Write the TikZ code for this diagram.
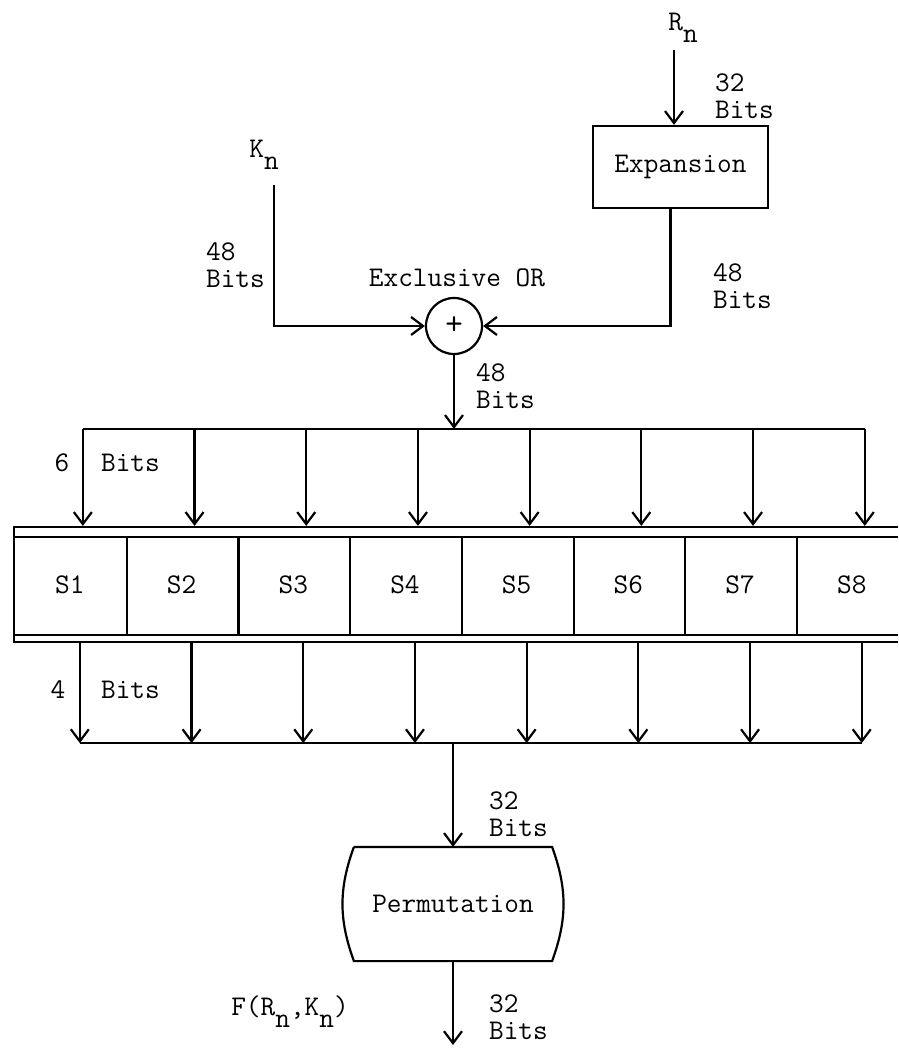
\documentclass[tikz,border=0pt]{standalone}
\usepackage{tikz}
\usetikzlibrary{positioning,arrows.meta,calc}

\begin{document}
\begin{tikzpicture}[
    x=1pt, y=-1pt, line width=2.2pt,
    font=\fontsize{28.5}{27}\selectfont\ttfamily,
    box/.style={rectangle, draw, minimum width=175pt, minimum height=82pt},
    sbox/.style={rectangle, minimum width=111.7pt, minimum height=115pt, inner sep=0pt},
    xorbox/.style={circle, draw, minimum size=56pt, inner sep=0pt},
    permbox/.style={rectangle, minimum width=196pt, minimum height=112pt},
    bits/.style={align=left, anchor=west, inner sep=0pt},
    arrow/.style={-{Straight Barb[length=12pt,width=18pt]}}
]
    \useasboundingbox (0,0) rectangle (898,1048);

    % inputs
    \node (rn) at (683,28) {R\raisebox{-12pt}{n}};
    \node[box] (exp) at (680.5,167) {Expansion};
    \node (kn) at (264,155) {K\raisebox{-12pt}{n}};
    \node[xorbox] (xor) at (454,326) {\fontsize{34}{34}\selectfont +};
    \node (xortext) at (457,278) {Exclusive OR};
    \coordinate (rin) at (674,50);
    \coordinate (kin) at (274,185);

    \draw[arrow] (rin) -- (rin |- exp.north);
    \draw[arrow] (kin) |- (xor.west);
    \draw[arrow] ([xshift=-10pt]exp.south) |- (xor.east);

    \node[bits] (b32r) at (714,96) {32\\Bits};
    \node[bits] (b48k) at (205,265) {48\\Bits};
    \node[bits] (b48e) at (712,286) {48\\Bits};
    \node[bits] (b48x) at (475,386) {48\\Bits};

    % S-boxes
    \foreach \i in {1,...,8}
        \node[sbox] (s\i) at ({14+111.7*(\i-0.5)},584.5) {S\i};
    \draw (898,527) -- (14,527) -- (14,642) -- (898,642);
    \draw (14,537) -- (898,537) (14,635) -- (898,635);
    \foreach \i in {1,...,7}
        \draw ([yshift=-10pt]s\i.north east) -- ([yshift=7pt]s\i.south east);

    % 6 bit inputs
    \foreach \i in {1,...,8} {
        \coordinate (tb\i) at ($(s\i.north)+(13,-97)$);
        \draw[arrow] (tb\i) -- ([xshift=13pt]s\i.north);
    }
    \draw (tb1) -- (tb8);
    \draw[arrow] (xor) -- (xor |- tb1);
    \node (six) at (62,463) {6};
    \node[bits] (bits6) at (100,463) {Bits};

    % 4 bit outputs
    \foreach \i in {1,...,8} {
        \coordinate (bb\i) at ($(s\i.south)+(10,100)$);
        \draw[arrow] ([xshift=10pt]s\i.south) -- (bb\i);
    }
    \draw (bb1) -- (bb8);
    \node (four) at (58,690) {4};
    \node[bits] (bits4) at (100,690) {Bits};

    % permutation
    \node[permbox] (perm) at (453,904) {Permutation};
    \draw (perm.north west) -- (perm.north east) to[bend left=20] (perm.south east)
        -- (perm.south west) to[bend left=20] (perm.north west);
    \draw[arrow] (perm.north |- bb1) -- (perm.north);
    \coordinate (fout) at (453,1045);
    \draw[arrow] (perm.south) -- (fout);
    \node[bits] (b32p) at (488,814) {32\\Bits};
    \node[bits] (b32f) at (488,1017) {32\\Bits};
    \node (fval) at (290,1012) {F(R\raisebox{-12pt}{n},K\raisebox{-12pt}{n})};
\end{tikzpicture}
\end{document}
